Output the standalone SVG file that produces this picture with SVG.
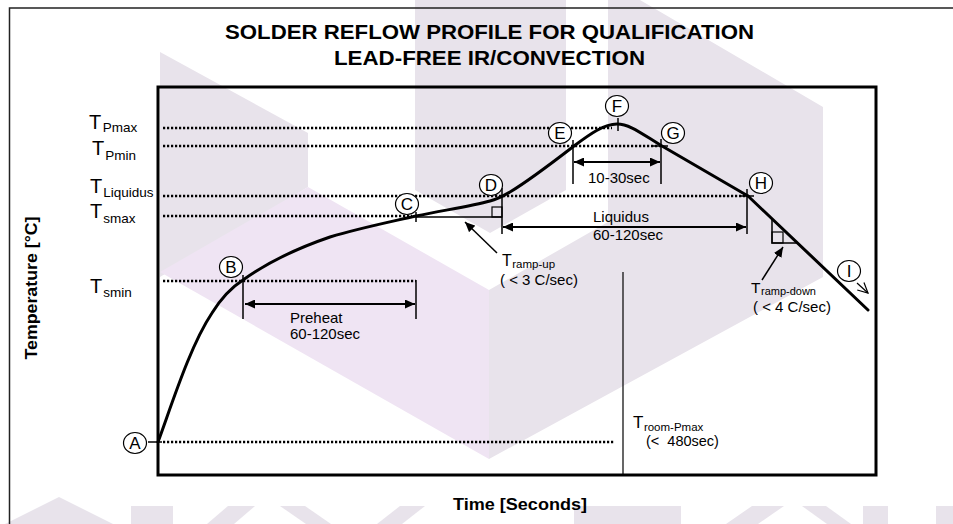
<svg xmlns="http://www.w3.org/2000/svg" width="953" height="524" viewBox="0 0 953 524">
<style>
text{font-family:"Liberation Sans",Arial,sans-serif;fill:#000}
.b{font-weight:bold}
.wg{fill:#e8e3eb}
.wp{fill:#efe4f3}
.dot{fill:none;stroke:#000;stroke-width:2.6;stroke-dasharray:2.2 1.8}
.tick{fill:none;stroke:#000;stroke-width:1.5}
.thin{fill:none;stroke:#000;stroke-width:1.2}
.arr{fill:none;stroke:#000;stroke-width:2;marker-start:url(#ah);marker-end:url(#ah)}
.ptr{fill:none;stroke:#000;stroke-width:1.5;marker-end:url(#ah)}
.curve{fill:none;stroke:#000;stroke-width:3;stroke-linejoin:round;stroke-linecap:round}
.node ellipse{fill:#fff;stroke:#000;stroke-width:1.2}
.node text{font-size:17px;text-anchor:middle}
.lab{font-size:15px}
.tl{font-size:20px}
.sub{font-size:13.5px}
</style>
<defs>
<marker id="ah" viewBox="0 0 10 9" refX="10" refY="4.5" markerWidth="10" markerHeight="9" markerUnits="userSpaceOnUse" orient="auto-start-reverse">
<path d="M0,0 L10,4.5 L0,9 Z" fill="#000"/>
</marker>
<marker id="oh" viewBox="0 0 12 12" refX="11" refY="6" markerWidth="12" markerHeight="12" markerUnits="userSpaceOnUse" orient="auto">
<path d="M1,1 L11,6 L1,11" fill="none" stroke="#000" stroke-width="1.2"/>
</marker>
</defs>

<g id="watermark">
<polygon class="wg" points="160,52 308,133 308,187 160,277"/>
<polygon class="wp" points="160,272 308,187 489,290 489,459"/>
<polygon class="wg" points="415,0 566,0 566,190 490,233 415,190"/>
<polygon class="wg" points="608,0 640,0 823,107 823,277 489,459 489,290 608,222"/>
<polygon class="wg" points="5,524 59,497 113,524"/>
<rect class="wg" x="131" y="506" width="42" height="18"/>
<polygon class="wg" points="207,524 228,506 255,506 234,524"/>
<polygon class="wg" points="280,506 305,506 331,524 306,524"/>
<polygon class="wg" points="377,524 400,506 425,506 402,524"/>
<rect class="wg" x="574" y="506" width="107" height="18"/>
<polygon class="wg" points="726,524 752,506 784,506 758,524"/>
<polygon class="wg" points="802,506 826,506 851,524 827,524"/>
<rect class="wg" x="863" y="506" width="25" height="18"/>
<rect class="wg" x="936" y="506" width="17" height="18"/>
</g>

<path id="border" d="M9.5,524 V8 H953" fill="none" stroke="#222" stroke-width="1.5"/>

<g id="title">
<text class="b" x="489.5" y="39" font-size="21" text-anchor="middle" textLength="529" lengthAdjust="spacingAndGlyphs">SOLDER REFLOW PROFILE FOR QUALIFICATION</text>
<text class="b" x="489.5" y="65" font-size="21" text-anchor="middle" textLength="311" lengthAdjust="spacingAndGlyphs">LEAD-FREE IR/CONVECTION</text>
</g>

<rect id="frame" x="158" y="87" width="718" height="388" fill="none" stroke="#000" stroke-width="3"/>

<g id="axis-labels">
<text class="b" transform="translate(37,288) rotate(-90)" font-size="16" text-anchor="middle" textLength="143" lengthAdjust="spacingAndGlyphs">Temperature [°C]</text>
<text class="b" x="520" y="510" font-size="16.5" text-anchor="middle" textLength="134" lengthAdjust="spacingAndGlyphs">Time [Seconds]</text>
<text class="tl" x="89" y="129">T<tspan class="sub" dx="1.5" dy="3">Pmax</tspan></text>
<text class="tl" x="92" y="155">T<tspan class="sub" dx="1" dy="5">Pmin</tspan></text>
<text class="tl" x="90" y="193">T<tspan class="sub" dx="1" dy="4">Liquidus</tspan></text>
<text class="tl" x="90" y="218">T<tspan class="sub" dx="1" dy="5">smax</tspan></text>
<text class="tl" x="90" y="293">T<tspan class="sub" dx="1" dy="4">smin</tspan></text>
</g>

<g id="connectors">
<path class="dot" d="M163,128 H612"/>
<path class="dot" d="M163,146 H661"/>
<path class="dot" d="M163,196 H747"/>
<path class="dot" d="M163,216 H412"/>
<path class="dot" d="M163,281 H416"/>
<path class="dot" d="M163,442 H615"/>

<path class="curve" d="M158,442 C172,404 190,346 212,313 C222,297 232,287 243,280 C268,262 295,249 330,237 C360,228 390,222 416,216 C445,210 472,206 490,201 C498,199 503,196 510,192 C530,180 552,163 574,146 C590,134 604,124 617,124 C630,124 642,134 662,146 L748,196"/>
<path class="curve" d="M748,196 L868,310" stroke-width="4"/>

<path class="tick" d="M148,442 H162"/>
<path class="tick" d="M243,275 V319"/>
<path class="tick" d="M416,280 V319"/>
<path class="tick" d="M416,212 V222"/>
<path class="tick" d="M502,188 V234"/>
<path class="tick" d="M573,140 V184"/>
<path class="tick" d="M618,118 V131"/>
<path class="tick" d="M661,139 V184 M653,146 H668"/>
<path class="tick" d="M747,189 V234 M741,196 H754"/>

<path class="tick" d="M416,217 H502" stroke="#333"/>
<rect class="thin" x="492" y="207" width="10" height="10"/>
<path class="tick" d="M772,219 V243 H797"/>
<rect class="thin" x="772" y="232" width="11" height="11"/>

<path class="arr" d="M245,304 H415"/>
<path class="arr" d="M503,227 H746"/>
<path class="arr" d="M574,162 H660"/>
<path class="ptr" d="M497,253 L465,222"/>
<path class="ptr" d="M762,280 L783,247"/>
<path class="thin" d="M857,283 L868,293" marker-end="url(#oh)"/>
<path class="thin" d="M623,272 V475"/>
</g>

<g id="labels">
<text class="lab" x="290" y="323">Preheat</text>
<text class="lab" x="290" y="339">60-120sec</text>
<text class="lab" x="593" y="222">Liquidus</text>
<text class="lab" x="593" y="240">60-120sec</text>
<text class="lab" x="588" y="183">10-30sec</text>
<text x="502" y="266" font-size="16">T<tspan font-size="11.5" dx="0.5" dy="2">ramp-up</tspan></text>
<text class="lab" x="500" y="285" style="white-space:pre">( &lt; 3 C/sec)</text>
<text x="751" y="293" font-size="15.5">T<tspan font-size="11" dx="0.5" dy="2">ramp-down</tspan></text>
<text class="lab" x="753" y="312" style="white-space:pre">( &lt; 4 C/sec)</text>
<text x="633" y="428" font-size="17">T<tspan font-size="11.5" dx="0.5" dy="3">room-Pmax</tspan></text>
<text x="646" y="446" font-size="14.5" style="white-space:pre">(&lt;  480sec)</text>
</g>

<g id="node-A" class="node"><ellipse cx="135" cy="443" rx="11.5" ry="10.5"/><text x="135" y="449">A</text></g>
<g id="node-B" class="node"><ellipse cx="231" cy="267" rx="11.5" ry="10.5"/><text x="231" y="273">B</text></g>
<g id="node-C" class="node"><ellipse cx="407" cy="204" rx="11.5" ry="10.5"/><text x="407" y="210">C</text></g>
<g id="node-D" class="node"><ellipse cx="491" cy="185" rx="11.5" ry="10.5"/><text x="491" y="191">D</text></g>
<g id="node-E" class="node"><ellipse cx="560" cy="133" rx="11.5" ry="10.5"/><text x="560" y="139">E</text></g>
<g id="node-F" class="node"><ellipse cx="617" cy="106" rx="11.5" ry="10.5"/><text x="617" y="112">F</text></g>
<g id="node-G" class="node"><ellipse cx="673" cy="133" rx="11.5" ry="10.5"/><text x="673" y="139">G</text></g>
<g id="node-H" class="node"><ellipse cx="761" cy="183" rx="11.5" ry="10.5"/><text x="761" y="189">H</text></g>
<g id="node-I" class="node"><ellipse cx="849" cy="271" rx="11.5" ry="10.5"/><text x="849" y="277">I</text></g>
</svg>
